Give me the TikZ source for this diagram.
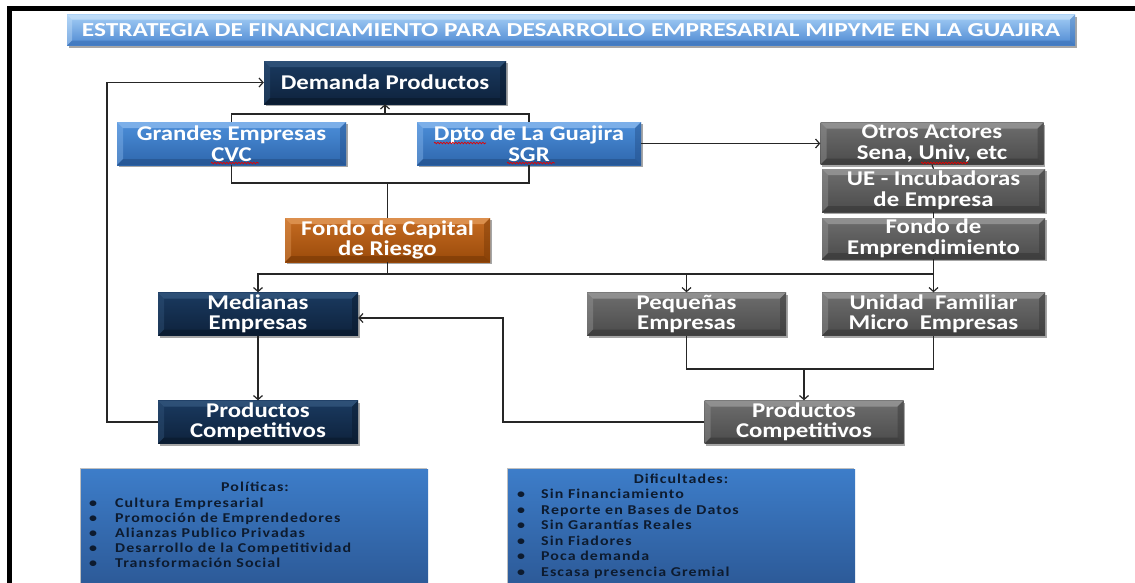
\documentclass[tikz,border=0pt]{standalone}
\usepackage{fontspec}
\usepackage{graphicx}
\usetikzlibrary{arrows.meta,shadows,decorations.pathmorphing}
\newfontfamily\boxfont{Carlito}[FakeStretch=1.18]
\newfontfamily\listfont{Carlito}[FakeStretch=1.18,LetterSpace=8]
\newfontfamily\titlefont{Carlito}
\definecolor{navyT}{HTML}{1A3A60}
\definecolor{navyB}{HTML}{0E223C}
\definecolor{navyL}{HTML}{35587F}
\definecolor{navyD}{HTML}{09182A}
\definecolor{blueT}{HTML}{4C8FDA}
\definecolor{blueB}{HTML}{2E66AC}
\definecolor{blueL}{HTML}{8DBBEF}
\definecolor{blueD}{HTML}{234E88}
\definecolor{orT}{HTML}{C66C22}
\definecolor{orB}{HTML}{9A4A0A}
\definecolor{orL}{HTML}{E49C5C}
\definecolor{orD}{HTML}{773805}
\definecolor{grT}{HTML}{6E6E6E}
\definecolor{grB}{HTML}{4B4B4B}
\definecolor{grL}{HTML}{9C9C9C}
\definecolor{grD}{HTML}{363636}
\definecolor{tiT}{HTML}{A4CEF6}
\definecolor{tiB}{HTML}{4D88D1}
\definecolor{tiL}{HTML}{C8E2FA}
\definecolor{tiD}{HTML}{3A70B5}
\definecolor{lsT}{HTML}{3D7DC9}
\definecolor{lsB}{HTML}{2A5591}
\definecolor{lsText}{HTML}{0D1B2F}
\newcommand\bevelpic[3]{%
  \coordinate (NW) at (path picture bounding box.north west);
  \coordinate (NE) at (path picture bounding box.north east);
  \coordinate (SW) at (path picture bounding box.south west);
  \coordinate (SE) at (path picture bounding box.south east);
  \fill[#1,opacity=.75] (NW) -- (NE) -- ([shift={(-#3,-#3)}]NE) -- ([shift={(#3,-#3)}]NW) -- cycle;
  \fill[#1,opacity=.4] (NW) -- ([shift={(#3,-#3)}]NW) -- ([shift={(#3,#3)}]SW) -- (SW) -- cycle;
  \fill[#2,opacity=.6] (SW) -- (SE) -- ([shift={(-#3,#3)}]SE) -- ([shift={(#3,#3)}]SW) -- cycle;
  \fill[#2,opacity=.45] (NE) -- (SE) -- ([shift={(-#3,#3)}]SE) -- ([shift={(-#3,-#3)}]NE) -- cycle;
}
\begin{document}
\begin{tikzpicture}[x=1pt,y=-1pt,
  fbox/.style={rectangle, inner sep=0pt, align=center, text=white,
    font=\boxfont\bfseries\fontsize{21}{20.5}\selectfont,
    drop shadow={shadow xshift=1.5pt,shadow yshift=-2pt,opacity=.35,fill=black}},
  navybox/.style={fbox, top color=navyT, bottom color=navyB, path picture={\bevelpic{navyL}{navyD}{6pt}}},
  bluebox/.style={fbox, top color=blueT, bottom color=blueB, path picture={\bevelpic{blueL}{blueD}{6pt}}},
  orbox/.style={fbox, top color=orT, bottom color=orB, path picture={\bevelpic{orL}{orD}{6pt}}},
  graybox/.style={fbox, top color=grT, bottom color=grB, path picture={\bevelpic{grL}{grD}{6pt}}},
  titlebox/.style={rectangle, inner sep=0pt, text=white, top color=tiT, bottom color=tiB,
    path picture={\bevelpic{tiL}{tiD}{5pt}},
    drop shadow={shadow xshift=1.5pt,shadow yshift=-2.5pt,opacity=.35,fill=black}},
  listbox/.style={rectangle, inner sep=0pt, top color=lsT, bottom color=lsB,
    drop shadow={shadow xshift=-1.5pt,shadow yshift=1.5pt,opacity=.25,fill=black}},
  listtxt/.style={inner sep=0pt, text=lsText, font=\listfont\bfseries\fontsize{13.5}{15}\selectfont},
  conn/.style={draw=black!85, line width=1.2pt},
  arr/.style={conn, -{Straight Barb[length=4pt,width=9pt]}},
  squig/.style={draw=red!90!black, line width=0.7pt, decorate,
    decoration={snake, amplitude=0.8pt, segment length=3pt}}
]
\useasboundingbox (0,0) rectangle (1135,582);
\fill[white] (0,0) rectangle (1135,582);
% frame
\draw[line width=4.5pt] (9.5,600) -- (9.5,8.5) -- (1140,8.5);

% title
\node[titlebox, minimum width=1008pt, minimum height=31pt] (title) at (571,30)
  {\raisebox{-1pt}{\resizebox{978pt}{13pt}{\titlefont\bfseries ESTRATEGIA DE FINANCIAMIENTO PARA DESARROLLO EMPRESARIAL MIPYME EN LA GUAJIRA}}};

% boxes
\node[navybox, minimum width=242pt, minimum height=43pt] (dem) at (385,82.5) {Demanda Productos};
\node[bluebox, minimum width=229pt, minimum height=43pt] (gran) at (231.5,143.5) {Grandes Empresas\\CVC};
\node[bluebox, minimum width=224pt, minimum height=43pt] (dpto) at (529,143.5) {Dpto de La Guajira\\SGR};
\node[graybox, minimum width=223pt, minimum height=42pt] (otros) at (932,143.5) {Otros Actores\\Sena, Univ, etc};
\node[graybox, minimum width=223pt, minimum height=43pt] (ue) at (933.5,190.5) {UE - Incubadoras\\de Empresa};
\node[graybox, minimum width=223pt, minimum height=41pt] (femp) at (933.5,238.5) {Fondo de\\Emprendimiento};
\node[orbox, minimum width=205pt, minimum height=44pt] (fcap) at (387.5,240) {Fondo de Capital\\de Riesgo};
\node[navybox, minimum width=200pt, minimum height=43pt] (med) at (258,314) {Medianas\\Empresas};
\node[graybox, minimum width=199pt, minimum height=43pt] (peq) at (686.5,314) {Pequeñas\\Empresas};
\node[graybox, minimum width=223pt, minimum height=43pt] (uni) at (933.5,314) {Unidad\ \ Familiar\\Micro\ \ Empresas};
\node[navybox, minimum width=200pt, minimum height=43pt] (pcn) at (258,422) {Productos\\Competitivos};
\node[graybox, minimum width=199pt, minimum height=43pt] (pcg) at (804,422) {Productos\\Competitivos};

% spell-check marks
\draw[squig] (434,143) -- (486,143);
\draw[squig] (211,163) -- (259,163);
\draw[squig] (507,163) -- (555,163);
\draw[squig] (921,163) -- (968,163);

% connectors top
\coordinate (jt) at (dem.south |- 0,114);
\draw[conn] (gran.north) |- (jt) -| (dpto.north);
\draw[arr] (jt) -- (dem.south);
\coordinate (jb) at (fcap.north |- 0,183);
\draw[conn] (gran.south) |- (jb) -| (dpto.south);
\draw[conn] (jb) -- (fcap.north);
\draw[arr] (dpto.east) -- (otros.west);
\draw[conn] (otros.south) -- (ue.north);
\draw[conn] (ue.south) -- (femp.north);

% distribution line
\coordinate (jh) at (fcap.south |- 0,274);
\draw[conn] (fcap.south) -- (jh);
\draw[arr] (jh) -| (med.north);
\draw[arr] (jh) -| (peq.north);
\draw[conn] (jh) -- (jh -| uni.north);
\draw[arr] (femp.south) -- (uni.north);

% lower
\draw[arr] (med.south) -- (pcn.north);
\coordinate (lf) at (107,422);
\draw[arr] (pcn.west) -- (lf) |- (dem.west);
\coordinate (mf) at (503,422);
\draw[arr] (pcg.west) -- (mf) |- ([yshift=-4pt]med.east);
\coordinate (jm) at (pcg.north |- 0,369);
\draw[conn] (peq.south) |- (jm) -| (uni.south);
\draw[arr] (jm) -- (pcg.north);

% bottom boxes
\node[listbox, minimum width=347pt, minimum height=131pt, anchor=north west] (polbox) at (81,469) {};
\node[listbox, minimum width=347pt, minimum height=131pt, anchor=north west] (difbox) at (508,469) {};
\node[listtxt, anchor=base] (polh) at (255,491.5) {Políticas:};
\foreach \t [count=\i] in {Cultura Empresarial, Promoción de Emprendedores, Alianzas Publico Privadas, Desarrollo de la Competitividad, Transformación Social}{
  \node[listtxt, anchor=base] (pb\i) at (93,492.5+15*\i) {\textbullet};
  \node[listtxt, anchor=base west] (pl\i) at (115,492.5+15*\i) {\t};
}
\node[listtxt, anchor=base] (difh) at (681,483.5) {Dificultades:};
\foreach \t [count=\i] in {Sin Financiamiento, Reporte en Bases de Datos, Sin Garantías Reales, Sin Fiadores, Poca demanda, Escasa presencia Gremial}{
  \node[listtxt, anchor=base] (db\i) at (521,482.9+15.6*\i) {\textbullet};
  \node[listtxt, anchor=base west] (dl\i) at (541,482.9+15.6*\i) {\t};
}
\end{tikzpicture}
\end{document}
